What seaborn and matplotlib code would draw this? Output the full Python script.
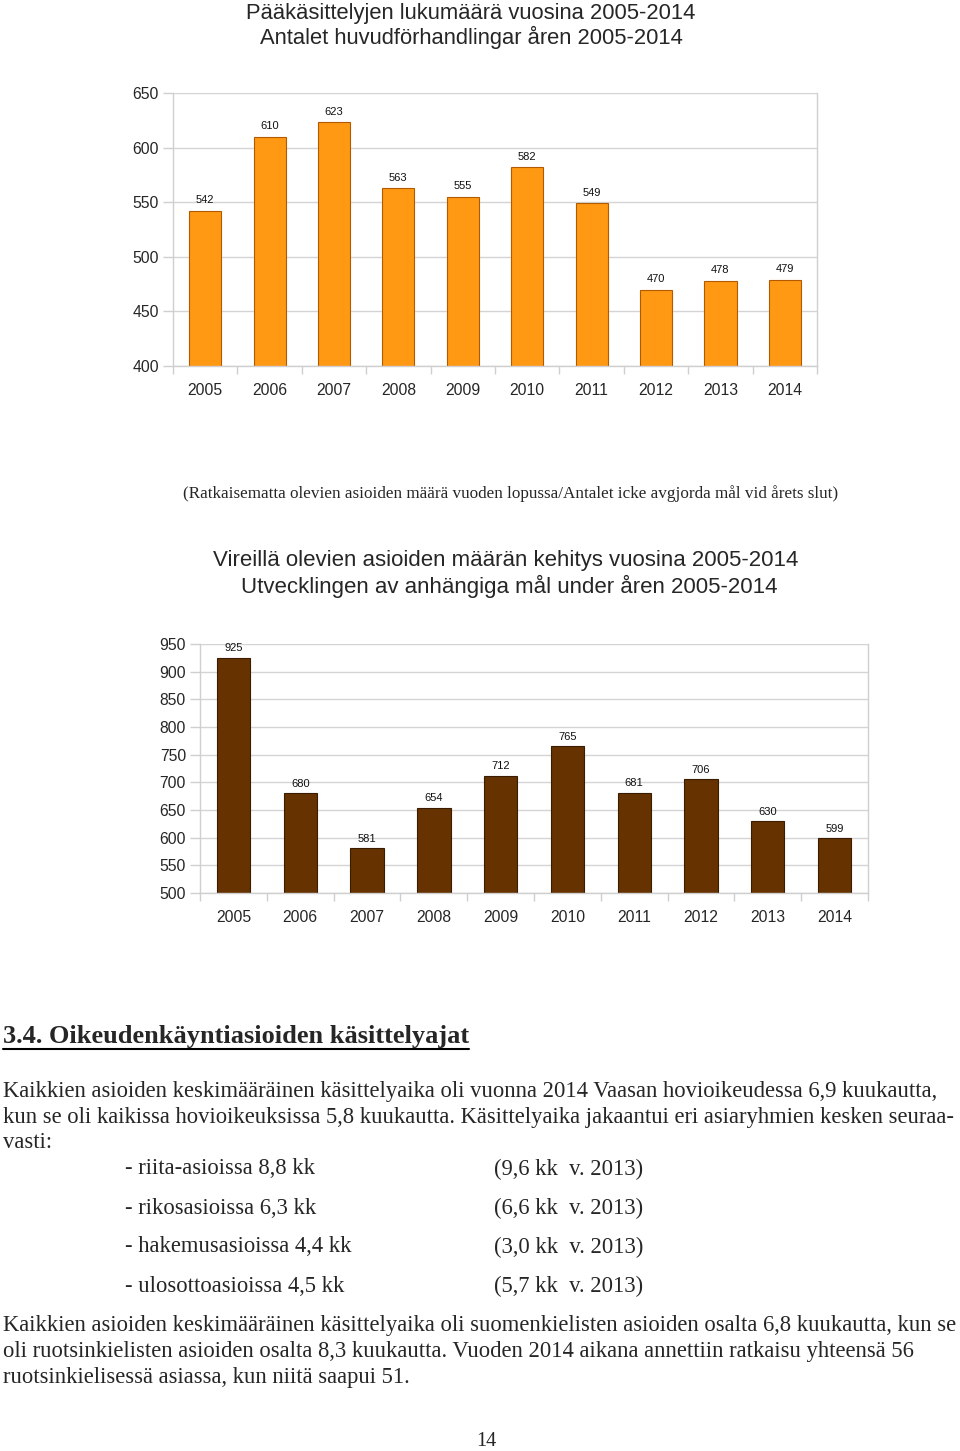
import matplotlib
matplotlib.use("Agg")
import matplotlib.pyplot as plt
import seaborn as sns
import pandas as pd
from matplotlib.lines import Line2D

years = ["2005", "2006", "2007", "2008", "2009", "2010", "2011", "2012", "2013", "2014"]
main_hearings = [542, 610, 623, 563, 555, 582, 549, 470, 478, 479]
pending_cases = [925, 680, 581, 654, 712, 765, 681, 706, 630, 599]
yticks1 = [400, 450, 500, 550, 600, 650]
yticks2 = [500, 550, 600, 650, 700, 750, 800, 850, 900, 950]

title1 = ["Pääkäsittelyjen lukumäärä vuosina 2005-2014",
          "Antalet huvudförhandlingar åren 2005-2014"]
caption = "(Ratkaisematta olevien asioiden määrä vuoden lopussa/Antalet icke avgjorda mål vid årets slut)"
title2 = ["Vireillä olevien asioiden määrän kehitys vuosina 2005-2014",
          "Utvecklingen av anhängiga mål under åren 2005-2014"]
heading = "3.4. Oikeudenkäyntiasioiden käsittelyajat"
para1 = ["Kaikkien asioiden keskimääräinen käsittelyaika oli vuonna 2014 Vaasan hovioikeudessa 6,9 kuukautta,",
         "kun se oli kaikissa hovioikeuksissa 5,8 kuukautta. Käsittelyaika jakaantui eri asiaryhmien kesken seuraa-",
         "vasti:"]
list_left = ["- riita-asioissa 8,8 kk", "- rikosasioissa 6,3 kk",
             "- hakemusasioissa 4,4 kk", "- ulosottoasioissa 4,5 kk"]
list_right = ["(9,6 kk  v. 2013)", "(6,6 kk  v. 2013)",
              "(3,0 kk  v. 2013)", "(5,7 kk  v. 2013)"]
para2 = ["Kaikkien asioiden keskimääräinen käsittelyaika oli suomenkielisten asioiden osalta 6,8 kuukautta, kun se",
         "oli ruotsinkielisten asioiden osalta 8,3 kuukautta. Vuoden 2014 aikana annettiin ratkaisu yhteensä 56",
         "ruotsinkielisessä asiassa, kun niitä saapui 51."]
page_no = "14"

sns.set_theme(style="white")
plt.rcParams['font.family'] = ['Liberation Sans', 'DejaVu Sans']

W, H = 960, 1451
fig = plt.figure(figsize=(W / 100, H / 100), dpi=100)

def px_axes(l, t, r, b):
    return fig.add_axes([l / W, 1 - b / H, (r - l) / W, (b - t) / H])

def ftext(x, y, s, **kw):
    return fig.text(x / W, 1 - y / H, s, **kw)

def style_axes(ax, yticks, vals, fmt_offset):
    ax.set_ylim(yticks[0], yticks[-1])
    ax.set_yticks(yticks)
    ax.set_xlim(-0.5, len(years) - 0.5)
    ax.yaxis.grid(True, color="#d4d4d4", linewidth=1)
    ax.set_axisbelow(True)
    for sp in ax.spines.values():
        sp.set_visible(True)
        sp.set_color("#cfcfcf")
        sp.set_linewidth(1)
    ax.spines["top"].set_visible(False)
    ax.set_xlabel("")
    ax.set_ylabel("")
    ax.tick_params(axis="y", which="major", length=7, color="#cfcfcf", width=1,
                   labelsize=11.3, pad=3, left=True)
    ax.tick_params(axis="x", which="major", length=0, labelsize=11.3, pad=12)
    ax.set_xticks([i - 0.5 for i in range(len(years) + 1)], minor=True)
    ax.tick_params(axis="x", which="minor", length=6, color="#cfcfcf", width=1, bottom=True)
    for i, v in enumerate(vals):
        ax.text(i, v + fmt_offset, str(v), ha="center", va="bottom", fontsize=8, color="#111111")

# Chart 1
ax1 = px_axes(173, 93, 817, 366)
df1 = pd.DataFrame({"year": years, "value": main_hearings})
sns.barplot(data=df1, x="year", y="value", ax=ax1, color="#FF9914", width=0.5,
            saturation=1, edgecolor="#b25a00", linewidth=0.8)
style_axes(ax1, yticks1, main_hearings, 5)

# Chart 2
ax2 = px_axes(200, 644, 868, 893)
df2 = pd.DataFrame({"year": years, "value": pending_cases})
sns.barplot(data=df2, x="year", y="value", ax=ax2, color="#663300", width=0.5,
            saturation=1, edgecolor="#3a1d00", linewidth=0.8)
style_axes(ax2, yticks2, pending_cases, 8)

# Titles
ftext(471, 13, title1[0], ha="center", va="center", fontsize=15.8)
ftext(471, 37, title1[1], ha="center", va="center", fontsize=15.8)
ftext(511, 494, caption, ha="center", va="center", fontsize=12.3, family=['Liberation Serif'])
ftext(506, 560, title2[0], ha="center", va="center", fontsize=16)
ftext(509, 586, title2[1], ha="center", va="center", fontsize=16)

# Heading
ht = ftext(3, 1036, heading, ha="left", va="center", fontsize=19, fontweight="bold",
           family=['Liberation Serif'])
fig.canvas.draw()
bb = ht.get_window_extent()
fig.add_artist(Line2D([3 / W, (3 + bb.width) / W], [1 - 1049 / H, 1 - 1049 / H],
                      color="black", linewidth=1.5, transform=fig.transFigure))

serif = ['Liberation Serif']
fs = 16.3
for i, line in enumerate(para1):
    ftext(3, 1091 + 26 * i, line, ha="left", va="center", fontsize=fs, family=serif)
for i, (a, b) in enumerate(zip(list_left, list_right)):
    ftext(125, 1169 + 39 * i, a, ha="left", va="center", fontsize=fs, family=serif)
    ftext(494, 1169 + 39 * i, b, ha="left", va="center", fontsize=fs, family=serif)
for i, line in enumerate(para2):
    ftext(3, 1326 + 26 * i, line, ha="left", va="center", fontsize=fs, family=serif)
ftext(486, 1442, page_no, ha="center", va="center", fontsize=14.5, family=serif)

fig.savefig("out.png", dpi=100)
